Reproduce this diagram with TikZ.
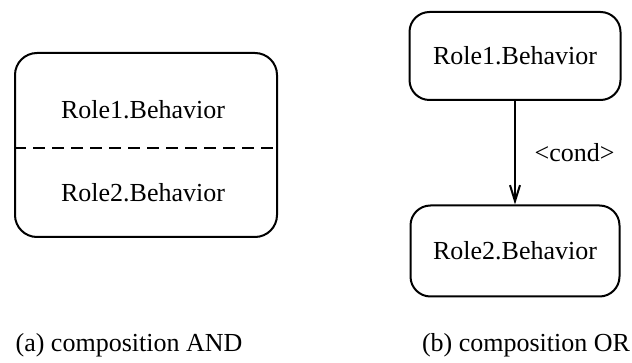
\documentclass[tikz,border=0pt]{standalone}
\usepackage{fontspec}
\setmainfont{Liberation Serif}
\usepackage{tikz}
\usetikzlibrary{arrows.meta}

\tikzset{
  state/.style = {draw, line width=1pt, rounded corners=11pt, inner sep=0pt},
  lbl/.style = {font=\fontsize{13}{15.6}\selectfont}
}

\begin{document}
\begin{tikzpicture} [x=0.5pt, y=-0.5pt, every node/.style={lbl}]
	\useasboundingbox (0,0) rectangle (632,363);
	% (a) AND composition
	\node [state, minimum width=131pt, minimum height=92pt] (andbox) at (146,145) {};
	\node (and1) at (143,110) {Role1.Behavior};
	\node (and2) at (143,193) {Role2.Behavior};
	\coordinate (sepl) at (andbox.west |- 0,148);
	\coordinate (sepr) at (andbox.east |- 0,148);
	\draw [line width=0.9pt, dash pattern=on 6pt off 3.5pt] (sepl) -- (sepr);
	% (b) OR composition
	\node [state, rounded corners=10pt, minimum width=105.5pt, minimum height=44pt] (or1) at (515,56) {Role1.Behavior};
	\node [state, rounded corners=10pt, minimum width=104.5pt, minimum height=45.5pt] (or2) at (515,251) {Role2.Behavior};
	\draw [line width=1pt, -{Straight Barb[length=8pt, width=5pt]}] (or1) -- (or2) node [midway, right=6pt] {<cond>};
	% captions
	\node (capa) at (129,345) {(a) composition AND};
	\node (capb) at (526,345) {(b) composition OR};
\end{tikzpicture}
\end{document}
